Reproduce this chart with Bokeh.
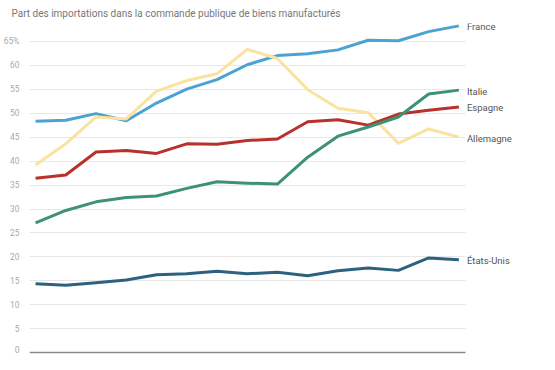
from bokeh.plotting import figure
from bokeh.models import ColumnDataSource, LabelSet, FixedTicker, Range1d, Grid
from bokeh.embed import file_html
from bokeh.resources import INLINE
from bokeh.core.properties import value

# ---- data ----
periodes = list(range(15))
france = [48.3, 48.5, 49.9, 48.4, 52.1, 55.0, 57.0, 60.1, 62.0, 62.4, 63.2, 65.2, 65.1, 67.0, 68.2]
allemagne = [39.2, 43.6, 49.2, 48.8, 54.6, 56.8, 58.2, 63.3, 61.4, 54.9, 51.0, 50.1, 43.7, 46.7, 45.0]
espagne = [36.4, 37.1, 41.9, 42.2, 41.6, 43.6, 43.5, 44.3, 44.6, 48.2, 48.6, 47.5, 49.8, 50.6, 51.3]
italie = [27.1, 29.7, 31.5, 32.4, 32.7, 34.3, 35.7, 35.4, 35.2, 40.8, 45.2, 47.1, 49.2, 54.0, 54.8]
etats_unis = [14.4, 14.1, 14.6, 15.2, 16.3, 16.5, 17.0, 16.5, 16.8, 16.1, 17.1, 17.7, 17.2, 19.8, 19.4]

noms = ["France", "Allemagne", "Espagne", "Italie", "États-Unis"]
series = [france, allemagne, espagne, italie, etats_unis]
couleurs = ["#4ba3d2", "#fae29f", "#b8312d", "#3d9371", "#2c6280"]
ticks = list(range(0, 70, 5))
titre = "Part des importations dans la commande publique de biens manufacturés"

FONT = "Roboto"
X0, X1 = -0.2, 14.22   # extent of the plotting area used by grid lines

p = figure(width=539, height=354, output_backend="svg", toolbar_location=None,
           x_range=Range1d(X0, 16.6), y_range=Range1d(-0.35, 68.7),
           min_border_left=19, min_border_right=2, min_border_top=0, min_border_bottom=0)

p.title.text = titre
p.title.text_font = FONT
p.title.text_font_size = "10px"
p.title.text_font_style = "normal"
p.title.text_color = "#777777"
p.title.align = "left"
p.title.offset = -18

p.outline_line_color = None
p.background_fill_color = "white"
p.border_fill_color = "white"

p.xaxis.visible = False
p.xgrid.grid_line_color = None

p.yaxis.ticker = FixedTicker(ticks=ticks)
p.yaxis.major_label_overrides = {65: "65%"}
p.yaxis.axis_line_color = None
p.yaxis.major_tick_line_color = None
p.yaxis.minor_tick_line_color = None
p.yaxis.major_label_text_font = FONT
p.yaxis.major_label_text_font_size = "8.5px"
p.yaxis.major_label_text_color = "#aaaaaa"
p.yaxis.major_label_standoff = 4

p.ygrid.ticker = FixedTicker(ticks=ticks[1:])
p.ygrid.grid_line_color = "#e8e8e8"
p.ygrid.grid_line_width = 1
p.ygrid.cross_bounds = (X0, X1)

base = Grid(dimension=1, ticker=FixedTicker(ticks=[0]), grid_line_color="#8a8a8a",
            grid_line_width=1.5, cross_bounds=(X0, X1))
p.add_layout(base)

for nom, vals, c in zip(noms, series, couleurs):
    p.line(periodes, vals, line_color=c, line_width=3, line_join="round")

src = ColumnDataSource(dict(x=[periodes[-1]] * len(noms), y=[s[-1] for s in series], t=noms))
labels = LabelSet(x="x", y="y", text="t", source=src, x_offset=8, y_offset=-1,
                  text_baseline="middle", text_font=value(FONT), text_font_size="9.5px",
                  text_color="#555555")
p.add_layout(labels)

open("out.html", "w").write(file_html(p, INLINE))
